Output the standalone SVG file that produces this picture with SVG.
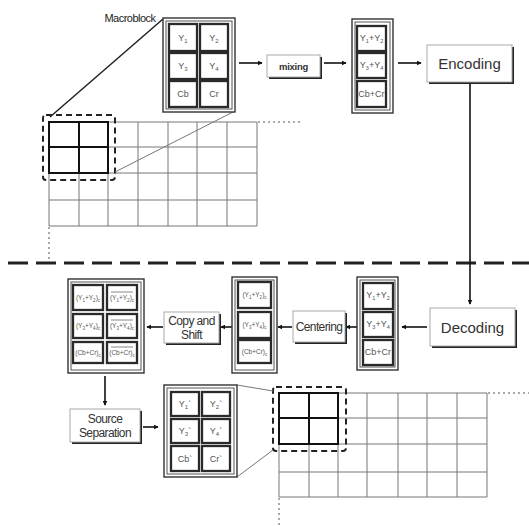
<svg xmlns="http://www.w3.org/2000/svg" width="529" height="526" viewBox="0 0 529 526">
<defs>
<marker id="ah" viewBox="0 0 8 8" refX="7" refY="4" markerWidth="5" markerHeight="5" orient="auto" markerUnits="userSpaceOnUse">
<path d="M0,0 L8,4 L0,8 Z" fill="#111"/>
</marker>
<style>
text{font-family:"Liberation Sans",Arial,sans-serif;}
.cont{fill:#fff;stroke:#333;stroke-width:1.4;}
.contin{fill:none;stroke:#555;stroke-width:1;}
.cell{fill:#fff;stroke:#2a2a2a;stroke-width:2.3;}
.lbl{font-size:9px;fill:#555;text-anchor:middle;}
.mlbl{font-size:9px;fill:#555;text-anchor:middle;}
.clbl{font-size:6.5px;fill:#555;text-anchor:middle;}
.shadow{fill:#222;}
.proc{fill:#fff;stroke:#aaa;stroke-width:1;}
.ptxt{fill:#333;text-anchor:middle;}
.arr{stroke:#111;stroke-width:1.6;fill:none;marker-end:url(#ah);}
.grid{stroke:#777;stroke-width:1;fill:none;}
.thick{stroke:#111;stroke-width:2;fill:none;}
.dbox{stroke:#222;stroke-width:2;fill:none;stroke-dasharray:6,4;}
.dot{stroke:#555;stroke-width:1;stroke-dasharray:2,3;fill:none;}
.zoom{stroke:#777;stroke-width:1;fill:none;}
</style>
</defs>
<rect width="529" height="526" fill="#fff"/>

<!-- separator -->
<line x1="8" y1="263" x2="529" y2="263" stroke="#222" stroke-width="3" stroke-dasharray="20,8"/>

<!-- top grid -->
<g id="grid-top">
<path class="grid" d="M49,122H257M49,147H257M49,173H257M49,200H257M49,226H257M49,122V226M79,122V226M108,122V226M138,122V226M168,122V226M197,122V226M227,122V226M257,122V226"/>
<path class="thick" d="M49,122H108V173H49ZM79,122V173M49,147H108"/>
<rect class="dbox" x="43" y="115" width="72" height="65" rx="3"/>
<line class="dot" x1="258" y1="122" x2="300" y2="122"/>
<line class="dot" x1="49" y1="227" x2="49" y2="262"/>
</g>

<!-- bottom grid -->
<g id="grid-bottom">
<path class="grid" d="M279,393H487M279,418H487M279,444H487M279,472H487M279,497H487M279,393V497M309,393V497M338,393V497M367,393V497M398,393V497M427,393V497M457,393V497M487,393V497"/>
<path class="thick" d="M279,393H338V444H279ZM309,393V444M279,418H338"/>
<rect class="dbox" x="273" y="387" width="73" height="64" rx="3"/>
<line class="dot" x1="488" y1="393" x2="529" y2="393"/>
<line class="dot" x1="279" y1="498" x2="279" y2="526"/>
</g>

<!-- connectors -->
<g id="connectors">
<line x1="163" y1="19" x2="50" y2="117" stroke="#222" stroke-width="1.5"/>
<line class="zoom" x1="235" y1="111" x2="115" y2="172"/>
<line class="zoom" x1="237" y1="385" x2="273" y2="391"/>
<line class="zoom" x1="237" y1="477" x2="273" y2="450"/>
<line class="arr" x1="239" y1="63" x2="262" y2="63"/>
<line class="arr" x1="324" y1="63" x2="346" y2="63"/>
<line class="arr" x1="398" y1="63" x2="421" y2="63"/>
<line class="arr" x1="470" y1="84" x2="470" y2="304"/>
<line class="arr" x1="427" y1="327" x2="402" y2="327"/>
<line class="arr" x1="357" y1="327" x2="346" y2="327"/>
<line class="arr" x1="292" y1="327" x2="278" y2="327"/>
<line class="arr" x1="232" y1="327" x2="221" y2="327"/>
<line class="arr" x1="163" y1="327" x2="147" y2="327"/>
<line class="arr" x1="105" y1="376" x2="105" y2="405"/>
<line class="arr" x1="143" y1="427" x2="158" y2="427"/>
</g>

<!-- Macroblock -->
<g id="macroblock">
<text x="130" y="22" font-size="11" fill="#222" text-anchor="middle" letter-spacing="-0.5">Macroblock</text>
<rect class="cont" x="163" y="18" width="72" height="94"/>
<rect class="contin" x="166" y="21" width="66" height="88"/>
<rect class="cell" x="169" y="24" width="28" height="27"/>
<rect class="cell" x="200" y="24" width="28" height="27"/>
<rect class="cell" x="169" y="53" width="28" height="26"/>
<rect class="cell" x="200" y="53" width="28" height="26"/>
<rect class="cell" x="169" y="81" width="28" height="26"/>
<rect class="cell" x="200" y="81" width="28" height="26"/>
<text class="lbl" x="183" y="41">Y<tspan font-size="6" dy="2">1</tspan></text>
<text class="lbl" x="214" y="41">Y<tspan font-size="6" dy="2">2</tspan></text>
<text class="lbl" x="183" y="69">Y<tspan font-size="6" dy="2">3</tspan></text>
<text class="lbl" x="214" y="69">Y<tspan font-size="6" dy="2">4</tspan></text>
<text class="lbl" x="183" y="97">Cb</text>
<text class="lbl" x="214" y="97">Cr</text>
</g>

<!-- mixing -->
<g id="mixing">
<rect class="shadow" x="269" y="57" width="53" height="22"/>
<rect class="proc" x="267" y="55" width="53" height="22"/>
<text class="ptxt" x="293.5" y="69.5" font-size="9.5" font-weight="bold" fill="#444" letter-spacing="-0.3">mixing</text>
</g>

<!-- mixed top -->
<g id="mixed-top">
<rect class="cont" x="352" y="19" width="41" height="94"/>
<rect class="contin" x="355" y="22" width="35" height="88"/>
<rect class="cell" x="357" y="26" width="29" height="25"/>
<rect class="cell" x="357" y="53" width="29" height="25"/>
<rect class="cell" x="357" y="81" width="29" height="26"/>
<text class="mlbl" x="371.5" y="41">Y<tspan font-size="5.5" dy="2">1</tspan><tspan dy="-2">+Y</tspan><tspan font-size="5.5" dy="2">2</tspan></text>
<text class="mlbl" x="371.5" y="68">Y<tspan font-size="5.5" dy="2">3</tspan><tspan dy="-2">+Y</tspan><tspan font-size="5.5" dy="2">4</tspan></text>
<text class="mlbl" x="371.5" y="97">Cb+Cr</text>
</g>

<!-- Encoding -->
<g id="encoding">
<rect class="shadow" x="429" y="47" width="85" height="37"/>
<rect class="proc" x="427" y="45" width="85" height="37"/>
<text class="ptxt" x="469.5" y="69" font-size="15">Encoding</text>
</g>

<!-- Decoding -->
<g id="decoding">
<rect class="shadow" x="432" y="310" width="85" height="38"/>
<rect class="proc" x="430" y="308" width="85" height="38"/>
<text class="ptxt" x="472.5" y="333" font-size="15">Decoding</text>
</g>

<!-- decoded mixed -->
<g id="mixed-decoded">
<rect class="cont" x="357" y="277" width="41" height="93"/>
<rect class="contin" x="360" y="280" width="35" height="87"/>
<rect class="cell" x="363" y="283" width="30" height="26"/>
<rect class="cell" x="363" y="312" width="30" height="25"/>
<rect class="cell" x="363" y="340" width="30" height="25"/>
<text class="mlbl" x="378" y="298">Y<tspan font-size="5.5" dy="2">1</tspan><tspan dy="-2">+Y</tspan><tspan font-size="5.5" dy="2">2</tspan></text>
<text class="mlbl" x="378" y="327">Y<tspan font-size="5.5" dy="2">3</tspan><tspan dy="-2">+Y</tspan><tspan font-size="5.5" dy="2">4</tspan></text>
<text class="mlbl" x="378" y="355">Cb+Cr</text>
</g>

<!-- Centering -->
<g id="centering">
<rect class="shadow" x="295" y="313" width="52" height="31"/>
<rect class="proc" x="293" y="311" width="52" height="31"/>
<text class="ptxt" x="319" y="331" font-size="12" letter-spacing="-0.6">Centering</text>
</g>

<!-- centered -->
<g id="centered">
<rect class="cont" x="232" y="277" width="45" height="96"/>
<rect class="contin" x="235" y="280" width="39" height="90"/>
<rect class="cell" x="238" y="282" width="33" height="26"/>
<rect class="cell" x="238" y="312" width="33" height="26"/>
<rect class="cell" x="238" y="340" width="33" height="23"/>
<text class="clbl" x="254.5" y="297">(Y<tspan font-size="4.5" dy="1.5">1</tspan><tspan dy="-1.5">+Y</tspan><tspan font-size="4.5" dy="1.5">2</tspan><tspan dy="-1.5">)</tspan><tspan font-size="4.5" dy="1.5">c</tspan></text>
<text class="clbl" x="254.5" y="327">(Y<tspan font-size="4.5" dy="1.5">3</tspan><tspan dy="-1.5">+Y</tspan><tspan font-size="4.5" dy="1.5">4</tspan><tspan dy="-1.5">)</tspan><tspan font-size="4.5" dy="1.5">c</tspan></text>
<text class="clbl" x="254.5" y="354">(Cb+Cr)<tspan font-size="4.5" dy="1.5">c</tspan></text>
</g>

<!-- Copy and Shift -->
<g id="copy-shift">
<rect class="shadow" x="166" y="314" width="55" height="31"/>
<rect class="proc" x="164" y="312" width="55" height="31"/>
<text class="ptxt" x="191.5" y="325" font-size="12" letter-spacing="-0.6">Copy and</text>
<text class="ptxt" x="191.5" y="339" font-size="12" letter-spacing="-0.6">Shift</text>
</g>

<!-- copied -->
<g id="copied">
<rect class="cont" x="68" y="279" width="76" height="94"/>
<rect class="contin" x="71" y="282" width="70" height="88"/>
<rect class="cell" x="73" y="285" width="30" height="25"/>
<rect class="cell" x="107" y="285" width="30" height="25"/>
<rect class="cell" x="73" y="314" width="30" height="24"/>
<rect class="cell" x="107" y="314" width="30" height="24"/>
<rect class="cell" x="73" y="342" width="30" height="21"/>
<rect class="cell" x="107" y="342" width="30" height="21"/>
<text class="clbl" x="88" y="300">(Y<tspan font-size="4.5" dy="1.5">1</tspan><tspan dy="-1.5">+Y</tspan><tspan font-size="4.5" dy="1.5">2</tspan><tspan dy="-1.5">)</tspan><tspan font-size="4.5" dy="1.5">c</tspan></text>
<text class="clbl" x="122" y="300">(Y<tspan font-size="4.5" dy="1.5">1</tspan><tspan dy="-1.5">+Y</tspan><tspan font-size="4.5" dy="1.5">2</tspan><tspan dy="-1.5">)</tspan><tspan font-size="4.5" dy="1.5">c</tspan></text>
<line x1="111" y1="292" x2="133" y2="292" stroke="#555" stroke-width="0.7"/>
<text class="clbl" x="88" y="328">(Y<tspan font-size="4.5" dy="1.5">3</tspan><tspan dy="-1.5">+Y</tspan><tspan font-size="4.5" dy="1.5">4</tspan><tspan dy="-1.5">)</tspan><tspan font-size="4.5" dy="1.5">c</tspan></text>
<text class="clbl" x="122" y="328">(Y<tspan font-size="4.5" dy="1.5">3</tspan><tspan dy="-1.5">+Y</tspan><tspan font-size="4.5" dy="1.5">4</tspan><tspan dy="-1.5">)</tspan><tspan font-size="4.5" dy="1.5">c</tspan></text>
<line x1="111" y1="320" x2="133" y2="320" stroke="#555" stroke-width="0.7"/>
<text class="clbl" x="88" y="355">(Cb+Cr)<tspan font-size="4.5" dy="1.5">c</tspan></text>
<text class="clbl" x="122" y="355">(Cb+Cr)<tspan font-size="4.5" dy="1.5">c</tspan></text>
<line x1="111" y1="347" x2="133" y2="347" stroke="#555" stroke-width="0.7"/>
</g>

<!-- Source Separation -->
<g id="source-separation">
<rect class="shadow" x="72" y="411" width="70" height="33"/>
<rect class="proc" x="70" y="409" width="70" height="33"/>
<text class="ptxt" x="105" y="423" font-size="12" letter-spacing="-0.6">Source</text>
<text class="ptxt" x="105" y="437" font-size="12" letter-spacing="-0.6">Separation</text>
</g>

<!-- reconstructed -->
<g id="reconstructed">
<rect class="cont" x="164" y="385" width="73" height="92"/>
<rect class="contin" x="167" y="388" width="67" height="86"/>
<rect class="cell" x="171" y="392" width="28" height="24"/>
<rect class="cell" x="202" y="392" width="28" height="24"/>
<rect class="cell" x="171" y="419" width="28" height="24"/>
<rect class="cell" x="202" y="419" width="28" height="24"/>
<rect class="cell" x="171" y="446" width="28" height="25"/>
<rect class="cell" x="202" y="446" width="28" height="25"/>
<text class="lbl" x="185" y="407">Y<tspan font-size="6" dy="2">1</tspan><tspan dy="-2">`</tspan></text>
<text class="lbl" x="216" y="407">Y<tspan font-size="6" dy="2">2</tspan><tspan dy="-2">`</tspan></text>
<text class="lbl" x="185" y="434">Y<tspan font-size="6" dy="2">3</tspan><tspan dy="-2">`</tspan></text>
<text class="lbl" x="216" y="434">Y<tspan font-size="6" dy="2">4</tspan><tspan dy="-2">`</tspan></text>
<text class="lbl" x="185" y="462">Cb`</text>
<text class="lbl" x="216" y="462">Cr`</text>
</g>
</svg>
